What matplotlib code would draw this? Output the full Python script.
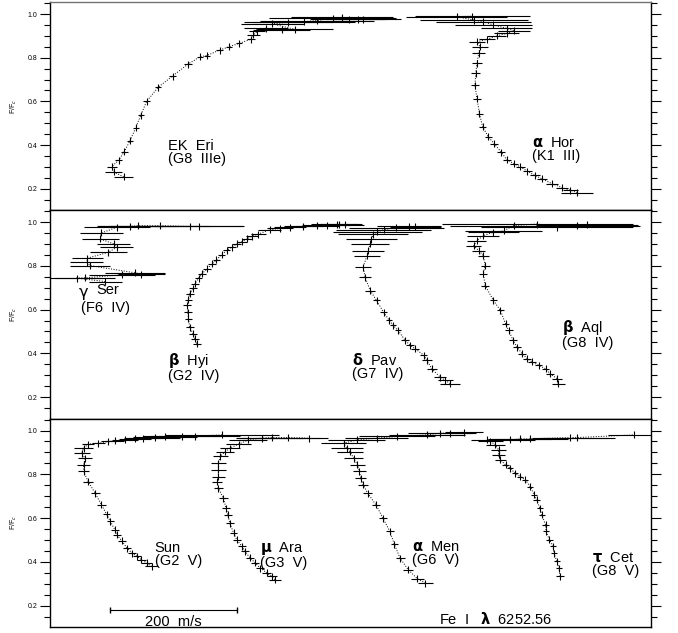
import numpy as np
import matplotlib
matplotlib.use("Agg")
import matplotlib.pyplot as plt
from matplotlib.ticker import MultipleLocator

plt.rcParams['font.family'] = ['Liberation Sans Narrow', 'Liberation Sans', 'DejaVu Sans']

# bisector points: flux level F/Fc, velocity (m/s, arbitrary offset), error (m/s)
# --- top panel ---
ekeri_f = [0.254, 0.277, 0.30, 0.33, 0.37, 0.42, 0.48, 0.537, 0.60, 0.664, 0.716, 0.77, 0.804, 0.81,
           0.835, 0.85, 0.865, 0.884, 0.904, 0.92, 0.935, 0.928, 0.93, 0.955, 0.962, 0.965, 0.97, 0.98,
           0.985, 0.975, 0.976, 0.976]
ekeri_v = [116, 100, 97, 108, 117, 126, 135, 143, 152, 170, 193, 217, 236, 247,
           267, 282, 297, 316, 320, 326, 340, 365, 385, 350, 375, 400, 420, 445,
           460, 470, 485, 493]
ekeri_e = [15, 13, 8, 6, 5, 5, 5, 5, 5, 5, 6, 6, 5, 5,
           5, 5, 5, 6, 10, 12, 35, 45, 60, 50, 70, 80, 90, 100,
           80, 60, 40, 60]

ahor_f = [0.182, 0.193, 0.205, 0.223, 0.246, 0.261, 0.281, 0.30, 0.315, 0.333, 0.368, 0.407, 0.437,
          0.483, 0.544, 0.613, 0.674, 0.728, 0.774, 0.82, 0.85, 0.873, 0.884, 0.90, 0.911, 0.924,
          0.934, 0.95, 0.965, 0.972, 0.988, 0.99]
ahor_v = [830, 819, 806, 790, 774, 763, 751, 740, 730, 719, 710, 699, 690,
          681, 676, 672, 669, 670, 672, 675, 677, 672, 688, 703, 719, 730,
          719, 698, 682, 667, 640, 665]
ahor_e = [25, 12, 10, 10, 8, 8, 7, 7, 6, 6, 6, 6, 5,
          5, 5, 6, 6, 7, 8, 10, 12, 12, 12, 15, 20, 25,
          40, 60, 75, 85, 80, 90]

# --- middle panel ---
gser_f = [0.728, 0.744, 0.745, 0.759, 0.762, 0.768, 0.801, 0.816, 0.835, 0.862, 0.885, 0.90,
          0.923, 0.95, 0.976, 0.98, 0.983, 0.983, 0.98, 0.98]
gser_v = [87, 42, 55, 113, 144, 134, 63, 58, 59, 92, 105, 100,
          79, 81, 105, 126, 139, 173, 220, 234]
gser_e = [26, 42, 47, 52, 37, 47, 31, 26, 24, 29, 26, 26,
          29, 34, 52, 52, 63, 79, 84, 71]

bhyi_f = [0.445, 0.467, 0.49, 0.52, 0.558, 0.589, 0.619, 0.646, 0.672, 0.698, 0.718, 0.744, 0.763,
          0.786, 0.809, 0.827, 0.85, 0.87, 0.885, 0.90, 0.91, 0.923, 0.935, 0.945, 0.965, 0.971,
          0.976, 0.98, 0.983, 0.986, 0.989, 0.99, 0.988]
bhyi_v = [231, 228, 225, 220, 218, 217, 216, 218, 220, 225, 228, 234, 239,
          247, 255, 262, 270, 278, 286, 294, 302, 310, 318, 328, 346, 362,
          378, 399, 420, 436, 451, 455, 465]
bhyi_e = [6, 6, 6, 6, 6, 6, 6, 6, 6, 6, 6, 6, 6,
          6, 6, 6, 6, 6, 7, 7, 8, 8, 10, 12, 18, 20,
          25, 30, 35, 40, 40, 30, 30]

dpav_f = [0.262, 0.277, 0.292, 0.33, 0.369, 0.392, 0.421, 0.437, 0.459, 0.505, 0.528, 0.551, 0.588,
          0.642, 0.687, 0.748, 0.794, 0.847, 0.869, 0.90, 0.922, 0.945, 0.955, 0.965, 0.975, 0.98,
          0.978]
dpav_v = [630, 622, 614, 601, 593, 588, 575, 567, 559, 548, 540, 534, 525,
          514, 504, 496, 493, 499, 501, 504, 506, 509, 515, 525, 545, 565,
          575]
dpav_e = [16, 12, 10, 8, 8, 6, 6, 6, 6, 5, 5, 5, 5,
          6, 8, 10, 13, 20, 25, 30, 40, 55, 70, 75, 75, 50,
          40]

baql_f = [0.262, 0.285, 0.307, 0.33, 0.346, 0.361, 0.376, 0.399, 0.429, 0.459, 0.505, 0.535, 0.596,
          0.642, 0.71, 0.763, 0.801, 0.847, 0.869, 0.892, 0.915, 0.938, 0.953, 0.96, 0.984, 0.991,
          0.976, 0.984, 0.987]
baql_v = [800, 798, 787, 780, 769, 759, 751, 743, 735, 729, 722, 717, 709,
          698, 685, 682, 685, 682, 675, 667, 672, 682, 698, 714, 730, 767,
          798, 829, 845]
baql_e = [10, 8, 7, 6, 6, 6, 6, 6, 6, 6, 6, 6, 6,
          6, 6, 6, 7, 9, 10, 12, 15, 25, 40, 60, 100, 150,
          120, 100, 80]

# --- bottom panel ---
sun_f = [0.379, 0.395, 0.41, 0.425, 0.44, 0.463, 0.497, 0.524, 0.547, 0.585, 0.618, 0.661, 0.714,
         0.767, 0.813, 0.843, 0.874, 0.897, 0.92, 0.938, 0.942, 0.95, 0.953, 0.957, 0.962, 0.965,
         0.968, 0.971, 0.973, 0.975, 0.98]
sun_v = [160, 152, 144, 137, 129, 121, 113, 105, 102, 95, 89, 81, 71,
         60, 53, 53, 55, 50, 53, 60, 76, 92, 102, 118, 134, 147,
         165, 181, 207, 229, 271]
sun_e = [10, 8, 7, 7, 7, 6, 6, 6, 6, 6, 6, 7, 7,
         8, 9, 10, 11, 13, 15, 10, 10, 12, 15, 20, 25, 30,
         40, 50, 60, 70, 90]

mara_f = [0.319, 0.334, 0.35, 0.372, 0.395, 0.418, 0.448, 0.471, 0.501, 0.532, 0.577, 0.615, 0.646,
          0.691, 0.737, 0.767, 0.79, 0.82, 0.851, 0.882, 0.904, 0.92, 0.938, 0.957, 0.965, 0.968,
          0.968, 0.965]
mara_v = [354, 349, 341, 331, 323, 315, 307, 302, 294, 289, 283, 280, 277,
          273, 265, 263, 265, 265, 265, 268, 276, 283, 297, 312, 333, 349,
          375, 407]
mara_e = [10, 8, 7, 6, 6, 6, 6, 6, 6, 6, 6, 6, 6,
          7, 7, 8, 10, 12, 12, 12, 14, 16, 20, 30, 40, 50,
          50, 30]

amen_f = [0.303, 0.323, 0.364, 0.417, 0.481, 0.539, 0.60, 0.661, 0.714, 0.752, 0.783, 0.813, 0.843,
          0.874, 0.904, 0.919, 0.942, 0.957, 0.965, 0.973, 0.98, 0.988, 0.988, 0.992]
amen_v = [591, 578, 564, 551, 542, 535, 524, 513, 500, 493, 489, 487, 484,
          478, 472, 467, 462, 483, 514, 546, 593, 614, 630, 651]
amen_e = [12, 10, 8, 7, 6, 6, 6, 6, 7, 8, 9, 10, 12,
          15, 20, 25, 35, 45, 50, 60, 60, 50, 40, 30]

tcet_f = [0.334, 0.372, 0.402, 0.44, 0.471, 0.501, 0.539, 0.57, 0.615, 0.646, 0.684, 0.706, 0.744,
          0.775, 0.79, 0.805, 0.828, 0.843, 0.866, 0.889, 0.912, 0.935, 0.95, 0.957, 0.957, 0.962,
          0.962, 0.968, 0.968, 0.98]
tcet_v = [803, 801, 798, 793, 792, 786, 781, 780, 774, 771, 766, 762, 756,
          748, 740, 732, 724, 717, 709, 706, 706, 701, 693, 688, 724, 740,
          756, 819, 829, 919]
tcet_e = [6, 5, 5, 5, 5, 5, 5, 5, 5, 5, 5, 5, 5,
          5, 5, 5, 5, 6, 8, 10, 12, 15, 20, 25, 40, 50,
          60, 60, 60, 40]

W, H = 678, 633
fig = plt.figure(figsize=(W / 100, H / 100), dpi=100)

left, right = 50 / W, 651 / W
edges = [2, 210, 418.5, 627]
axes = []
for i in range(3):
    top = 1 - edges[i] / H
    bot = 1 - edges[i + 1] / H
    ax = fig.add_axes([left, bot, right - left, top - bot])
    ax.set_xlim(0, 946)
    ax.set_ylim(0.1025, 1.055)
    ax.set_xticks([])
    ax.yaxis.set_major_locator(MultipleLocator(0.2))
    ax.yaxis.set_minor_locator(MultipleLocator(0.05))
    ax.tick_params(axis='y', which='major', direction='out', length=7, width=0.8,
                   labelsize=5, pad=2, right=True)
    ax.tick_params(axis='y', which='minor', direction='out', length=4.5, width=0.8, right=True)
    ax.set_yticks([0.2, 0.4, 0.6, 0.8, 1.0])
    ax.set_yticklabels(['0.2', '0.4', '0.6', '0.8', '1.0'])
    for s in ax.spines.values():
        s.set_linewidth(1.0)
    ax.set_ylabel(r'F/F$_c$', fontsize=5, labelpad=6)
    axes.append(ax)
axes[0].spines['top'].set_color('0.45')


def bisector(ax, f, v, e):
    ax.plot(v, f, ls=':', color='k', lw=0.7)
    ax.errorbar(v, f, xerr=e, yerr=0.016, fmt='none', ecolor='k',
                elinewidth=0.8, capsize=0)


ax1, ax2, ax3 = axes
bisector(ax1, ekeri_f, ekeri_v, ekeri_e)
bisector(ax1, ahor_f, ahor_v, ahor_e)
bisector(ax2, gser_f, gser_v, gser_e)
bisector(ax2, bhyi_f, bhyi_v, bhyi_e)
bisector(ax2, dpav_f, dpav_v, dpav_e)
bisector(ax2, baql_f, baql_v, baql_e)
bisector(ax3, sun_f, sun_v, sun_e)
bisector(ax3, mara_f, mara_v, mara_e)
bisector(ax3, amen_f, amen_v, amen_e)
bisector(ax3, tcet_f, tcet_v, tcet_e)

fs = 10.5
ls = 0.9
ax1.text(186, 0.364, 'EK  Eri\n(G8  IIIe)', fontsize=fs, va='center', linespacing=ls)
ax1.text(758, 0.38, r'$\mathbf{\alpha}$  Hor' + '\n(K1  III)', fontsize=fs, va='center', linespacing=ls)

ax2.text(46, 0.643, 'γ', fontsize=11.5, va='bottom', family=['DejaVu Sans'])
ax2.text(73, 0.688, 'Ser', fontsize=fs, va='center')
ax2.text(49, 0.607, '(F6  IV)', fontsize=fs, va='center')
ax2.text(186, 0.336, r'$\mathbf{\beta}$  Hyi' + '\n(G2  IV)', fontsize=fs, va='center', linespacing=ls)
ax2.text(475, 0.34, r'$\mathbf{\delta}$  Pav' + '\n(G7  IV)', fontsize=fs, va='center', linespacing=ls)
ax2.text(806, 0.488, r'$\mathbf{\beta}$  Aql' + '\n(G8  IV)', fontsize=fs, va='center', linespacing=ls)

ax3.text(165, 0.432, 'Sun\n(G2  V)', fontsize=fs, va='center', linespacing=ls)
ax3.text(331, 0.432, r'$\mathbf{\mu}$  Ara' + '\n(G3  V)', fontsize=fs, va='center', linespacing=ls)
ax3.text(570, 0.437, r'$\mathbf{\alpha}$  Men' + '\n(G6  V)', fontsize=fs, va='center', linespacing=ls)
ax3.text(853, 0.387, r'$\mathbf{\tau}$  Cet' + '\n(G8  V)', fontsize=fs, va='center', linespacing=ls)

# velocity scale bar
bar_start, bar_len = 94.5, 200
ax3.errorbar([bar_start + bar_len / 2], [0.181], xerr=bar_len / 2, fmt='none',
             ecolor='k', elinewidth=0.8, capsize=2)
ax3.text(bar_start + bar_len / 2, 0.127, '200  m/s', fontsize=fs, ha='center', va='center')
ax3.text(702, 0.14, r'Fe  I   $\mathbf{\lambda}$  6252.56', fontsize=fs, ha='center', va='center')

fig.savefig('out.png', dpi=100)
